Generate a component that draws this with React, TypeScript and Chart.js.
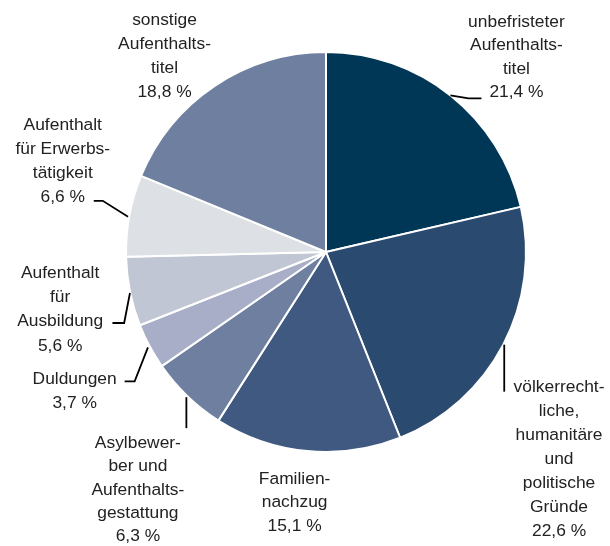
import React, { useEffect, useRef } from "react";
import { Chart, registerables } from "chart.js";

Chart.register(...registerables);

const categories: string[][] = [
  ["unbefristeter", "Aufenthalts-", "titel"],
  ["völkerrecht-", "liche,", "humanitäre", "und", "politische", "Gründe"],
  ["Familien-", "nachzug"],
  ["Asylbewer-", "ber und", "Aufenthalts-", "gestattung"],
  ["Duldungen"],
  ["Aufenthalt", "für", "Ausbildung"],
  ["Aufenthalt", "für Erwerbs-", "tätigkeit"],
  ["sonstige", "Aufenthalts-", "titel"],
];

const shares: number[] = [21.4, 22.6, 15.1, 6.3, 3.7, 5.6, 6.6, 18.8];

const valueLabels: string[] = ["21,4 %", "22,6 %", "15,1 %", "6,3 %", "3,7 %", "5,6 %", "6,6 %", "18,8 %"];

const sliceColors: string[] = [
  "#003656",
  "#2b4a70",
  "#3f5981",
  "#6f7f9f",
  "#a9aec8",
  "#c1c6d4",
  "#dde0e4",
  "#6f7f9f",
];

// label layout relative to the slice's outer mid point
const labelLayout = [
  { leader: [[0, 0], [18, 3], [31, 3]], dx: 66, dy: -73.3, lh: 23.5 },
  { leader: [[1, 0], [1, 47]], dx: 55.8, dy: 42.5, lh: 24 },
  { leader: [], dx: -12.6, dy: 28, lh: 23.5 },
  { leader: [[-1, 1], [-1, 32]], dx: -49.5, dy: 47, lh: 23.3 },
  { leader: [[-1.7, 1], [-15, 35], [-25, 35]], dx: -75, dy: 33, lh: 24 },
  { leader: [[0, 1.4], [-5.8, 31.4], [-17.5, 31.4]], dx: -69.8, dy: -18.6, lh: 24.3 },
  { leader: [[-1.3, 1.3], [-26.6, -14.7], [-35.6, -14.7]], dx: -66.6, dy: -90.7, lh: 24.3 },
  { leader: [], dx: -50.2, dy: -65.3, lh: 23.8 },
];

const FONT = '17.4px "Liberation Sans", Arial, sans-serif';

const labelPlugin = {
  id: "sliceLabels",
  afterDraw(chart: any) {
    const ctx = chart.ctx;
    const meta = chart.getDatasetMeta(0);
    ctx.save();
    meta.data.forEach((arc: any, i: number) => {
      const p = arc.getProps(["x", "y", "startAngle", "endAngle", "outerRadius"], true);
      const mid = (p.startAngle + p.endAngle) / 2;
      const ex = p.x + Math.cos(mid) * p.outerRadius;
      const ey = p.y + Math.sin(mid) * p.outerRadius;
      const lay = labelLayout[i];
      if (lay.leader.length > 1) {
        ctx.beginPath();
        ctx.strokeStyle = "#000";
        ctx.lineWidth = 1.8;
        lay.leader.forEach((pt: number[], k: number) => {
          const lx = ex + pt[0];
          const ly = ey + pt[1];
          if (k === 0) ctx.moveTo(lx, ly);
          else ctx.lineTo(lx, ly);
        });
        ctx.stroke();
      }
      const lines = [...categories[i], valueLabels[i]];
      ctx.font = FONT;
      ctx.fillStyle = "#222222";
      ctx.textAlign = "center";
      ctx.textBaseline = "middle";
      lines.forEach((t, k) => {
        ctx.fillText(t, ex + lay.dx, ey + lay.dy + k * lay.lh);
      });
    });
    ctx.restore();
  },
};

export default function App() {
  const ref = useRef<HTMLCanvasElement>(null);
  useEffect(() => {
    document.body.style.margin = "0";
    const chart = new Chart(ref.current as HTMLCanvasElement, {
      type: "pie",
      data: {
        labels: categories.map((c) => c.join(" ")),
        datasets: [
          {
            data: shares,
            backgroundColor: sliceColors,
            borderColor: "#ffffff",
            borderWidth: 2,
          },
        ],
      },
      options: {
        animation: false,
        responsive: false,
        layout: { padding: { left: 125, right: 83, top: 51, bottom: 93 } },
        plugins: { legend: { display: false }, tooltip: { enabled: false } },
      },
      plugins: [labelPlugin],
    });
    return () => chart.destroy();
  }, []);
  return (
    <div style={{ width: 610, height: 546, background: "#fff" }}>
      <canvas ref={ref} width={610} height={546} />
    </div>
  );
}
